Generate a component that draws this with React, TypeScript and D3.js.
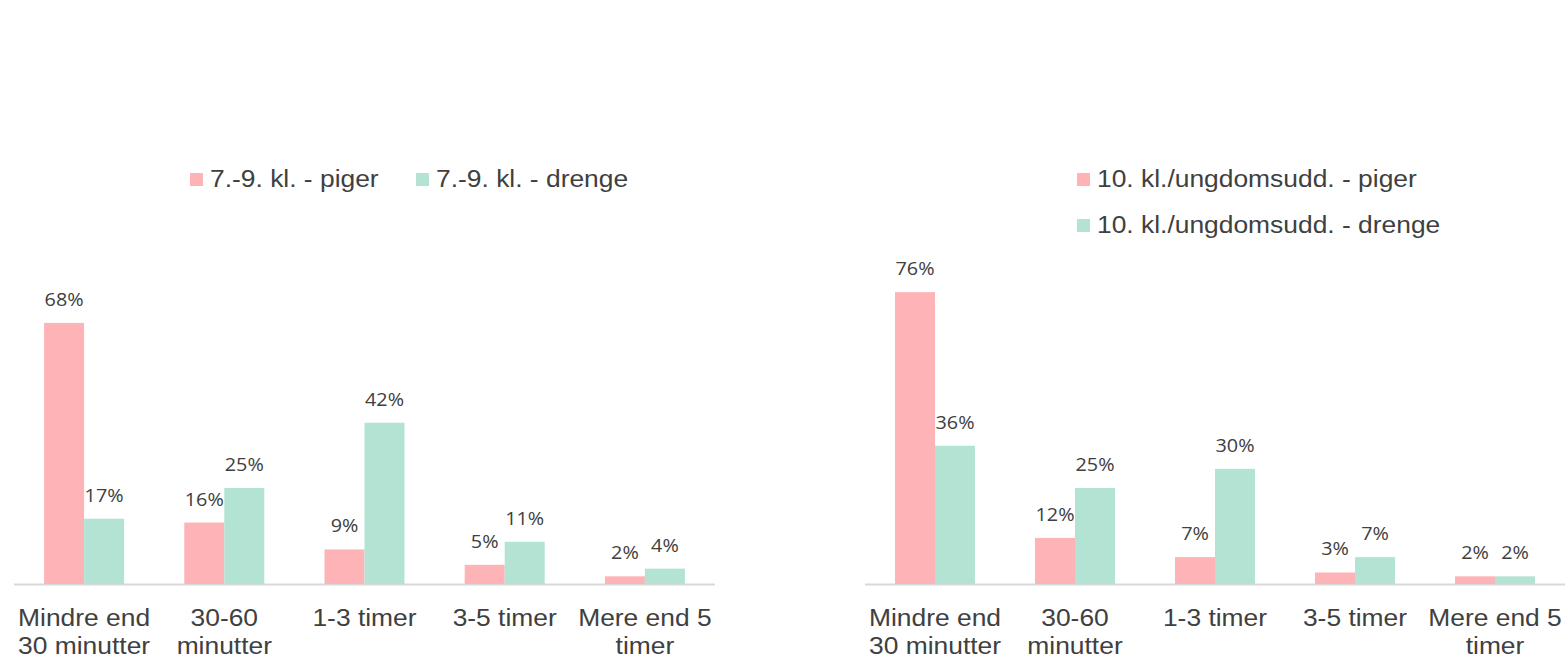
import { useEffect, useRef } from 'react';
import * as d3 from 'd3';

const categories = [
  ['Mindre end', '30 minutter'],
  ['30-60', 'minutter'],
  ['1-3 timer'],
  ['3-5 timer'],
  ['Mere end 5', 'timer'],
];

const leftSeries = ['7.-9. kl. - piger', '7.-9. kl. - drenge'];
const leftPiger = [68, 16, 9, 5, 2];
const leftDrenge = [17, 25, 42, 11, 4];

const rightSeries = ['10. kl./ungdomsudd. - piger', '10. kl./ungdomsudd. - drenge'];
const rightPiger = [76, 12, 7, 3, 2];
const rightDrenge = [36, 25, 30, 7, 2];

const colors = ['#feb3b7', '#b3e3d3'];

const W = 1565;
const H = 658;
// the reference text is rendered a little wider than normal
const STRETCH = 1.1;

export default function App() {
  const svgRef = useRef<SVGSVGElement>(null);

  useEffect(() => {
    if (!svgRef.current) return;
    const svg = d3.select(svgRef.current);
    svg.selectAll('*').remove();

    const baseline = 584;
    const yScale = d3.scaleLinear().domain([0, 100]).range([baseline, baseline - 384]);

    const stretched = (
      parent: d3.Selection<SVGGElement, unknown, null, undefined>,
      x: number,
      y: number,
    ) => parent.append('text').attr('transform', `translate(${x},${y}) scale(${STRETCH},1)`);

    const drawPanel = (
      x0: number,
      x1: number,
      series: string[],
      values: number[][],
      legendPos: { x: number; y: number }[],
    ) => {
      const g = svg.append('g');
      const keys = categories.map((c) => c.join(' '));
      const xScale = d3.scaleBand().domain(keys).range([x0, x1]);
      const inner = d3.scaleBand().domain(['0', '1']).range([0, 80]);
      const barX = (i: number, si: number) =>
        xScale(keys[i])! + xScale.bandwidth() / 2 - 40 + inner(String(si))!;

      // axis line
      g.append('line')
        .attr('x1', x0).attr('x2', x1)
        .attr('y1', baseline + 0.5).attr('y2', baseline + 0.5)
        .attr('stroke', '#d9d9d9')
        .attr('stroke-width', 2);

      values.forEach((vals, si) => {
        g.selectAll(`.bar-${si}`)
          .data(vals)
          .join('rect')
          .attr('class', `bar-${si}`)
          .attr('x', (_, i) => barX(i, si))
          .attr('y', (d) => yScale(d))
          .attr('width', inner.bandwidth())
          .attr('height', (d) => baseline - yScale(d))
          .attr('fill', colors[si]);

        vals.forEach((d, i) => {
          stretched(g, barX(i, si) + inner.bandwidth() / 2, yScale(d) - 17)
            .attr('text-anchor', 'middle')
            .attr('fill', '#404040')
            .attr('font-family', '"Open Sans", "Noto Sans", sans-serif')
            .attr('font-size', '18px')
            .text(`${d}%`);
        });
      });

      // category labels
      categories.forEach((lines, i) => {
        lines.forEach((line, li) => {
          stretched(g, xScale(keys[i])! + xScale.bandwidth() / 2, 626 + li * 28)
            .attr('text-anchor', 'middle')
            .attr('fill', '#404040')
            .attr('font-family', '"Liberation Sans", Arial, sans-serif')
            .attr('font-size', '24px')
            .text(line);
        });
      });

      // legend
      series.forEach((name, si) => {
        const p = legendPos[si];
        g.append('rect')
          .attr('x', p.x).attr('y', p.y - 14)
          .attr('width', 13).attr('height', 13)
          .attr('fill', colors[si]);
        stretched(g, p.x + 20, p.y)
          .attr('fill', '#404040')
          .attr('font-family', '"Liberation Sans", Arial, sans-serif')
          .attr('font-size', '24px')
          .text(name);
      });
    };

    drawPanel(14, 715, leftSeries, [leftPiger, leftDrenge], [
      { x: 190, y: 187 },
      { x: 416, y: 187 },
    ]);
    drawPanel(865, 1565, rightSeries, [rightPiger, rightDrenge], [
      { x: 1077, y: 187 },
      { x: 1077, y: 233 },
    ]);
  }, []);

  return (
    <div style={{ position: 'absolute', top: 0, left: 0, width: W, height: H, background: '#fff' }}>
      <svg ref={svgRef} width={W} height={H} style={{ display: 'block' }} />
    </div>
  );
}
